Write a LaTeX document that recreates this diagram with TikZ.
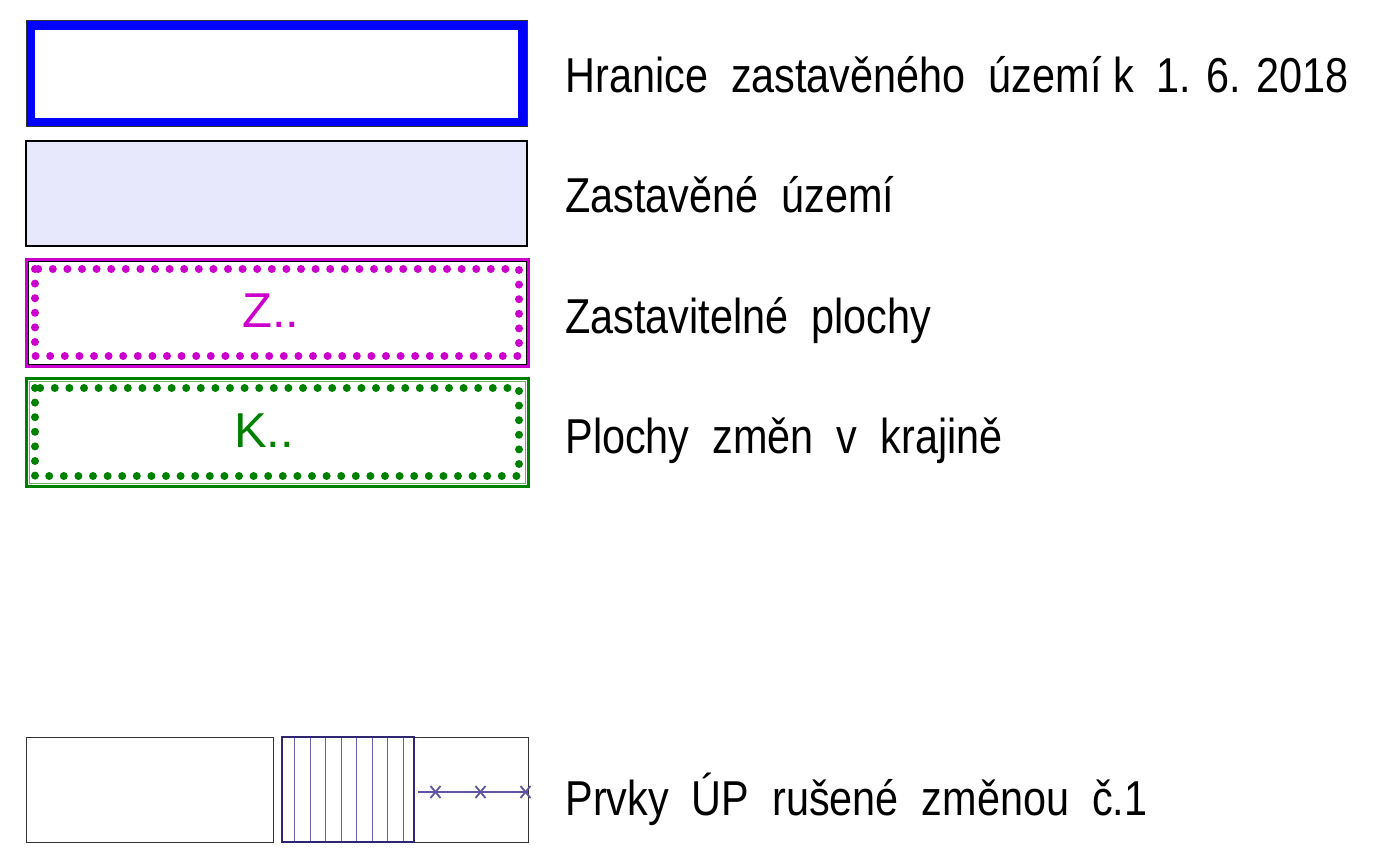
\documentclass[tikz,border=0pt]{standalone}
\usepackage{fontspec}
\setmainfont{Liberation Sans}[FakeStretch=0.845]
\newfontfamily\boxfont{Liberation Sans}
\usepackage{tikz}
\usetikzlibrary{calc}

\definecolor{hraniceblue}{HTML}{0000FF}
\definecolor{uzemifill}{HTML}{E8E8FC}
\definecolor{zmagenta}{HTML}{CC00CC}
\definecolor{kgreen}{HTML}{008000}
\definecolor{rusnavy}{HTML}{2E2670}
\definecolor{rusline}{HTML}{6A62B0}

\begin{document}
\begin{tikzpicture}[x=0.5pt, y=-0.5pt,
    legtext/.style={anchor=base west, inner sep=0pt, font=\fontsize{24.5pt}{28pt}\selectfont},
    boxtext/.style={anchor=base, inner sep=0pt, font=\boxfont\fontsize{24.5pt}{28pt}\selectfont},
    dotline/.style={line width=4pt, line cap=round, dash pattern=on 0pt off 7.3pt}]
        \pgfmathsetmacro{\bl}{26}
        \pgfmathsetmacro{\br}{527}
        \pgfmathsetmacro{\tx}{565}
        \useasboundingbox (0,0) rectangle (1400,855);
        % hranice zastaveneho uzemi
        \draw[line width=4.5pt, hraniceblue] (\bl+4.5,25.5) rectangle (\br-4.5,122.5);
        \draw[line width=0.5pt, black!80] (\bl,21) rectangle (\br,127);
        \node[legtext] (hranice) at (\tx,93) {Hranice\ \ zastavěného\ \ území k\ \ 1. 6. 2018};
        % zastavene uzemi
        \draw[line width=0.6pt, fill=uzemifill] (\bl,141) rectangle (\br,246);
        \node[legtext] (zastavene) at (\tx,213) {Zastavěné\ \ území};
        % zastavitelne plochy
        \draw[line width=1.5pt, zmagenta] (\bl,260) rectangle (\br+1,366);
        \draw[line width=0.5pt, black] (\bl+2,262) rectangle (\br-1,364);
        \draw[dotline, zmagenta] (\bl+9,269) rectangle (\br-8,356);
        \node[boxtext, zmagenta] (zlabel) at (271,328) {Z..};
        \node[legtext] (zastavitelne) at (\tx,333) {Zastavitelné\ \ plochy};
        % plochy zmen v krajine
        \draw[line width=1.5pt, kgreen] (\bl,378) rectangle (\br+1,486);
        \draw[line width=0.4pt, kgreen!60] (\bl+3,381) rectangle (\br-2,483);
        \draw[dotline, kgreen] (\bl+9,388) rectangle (\br-8,476);
        \node[boxtext, kgreen] (klabel) at (264,447) {K..};
        \node[legtext] (krajina) at (\tx,453) {Plochy\ \ změn\ \ v\ \ krajině};
        % prvky UP rusene
        \draw[line width=0.5pt, black!80] (\bl,737) rectangle (273,842);
        \draw[line width=0.5pt, black!80] (414,737) rectangle (528,842);
        \foreach \i in {0,...,7}
            \draw[line width=0.5pt, rusline] (294.5+15.5*\i,737) -- (294.5+15.5*\i,842);
        \draw[line width=1pt, rusnavy] (282,737) rectangle (414,842);
        \coordinate (r0) at (418,792);
        \coordinate (r1) at (528,792);
        \draw[line width=0.8pt, rusline!80!rusnavy] (r0) -- (r1);
        \foreach \cx in {435.5,480.5,525.5}
            \draw[line width=0.9pt, rusline!80!rusnavy] (\cx-5,786) -- (\cx+5,798) (\cx-5,798) -- (\cx+5,786);
        \node[legtext] (rusene) at (\tx,815) {Prvky\ \ ÚP\ \ rušené\ \ změnou\ \ č.1};
\end{tikzpicture}
\end{document}
